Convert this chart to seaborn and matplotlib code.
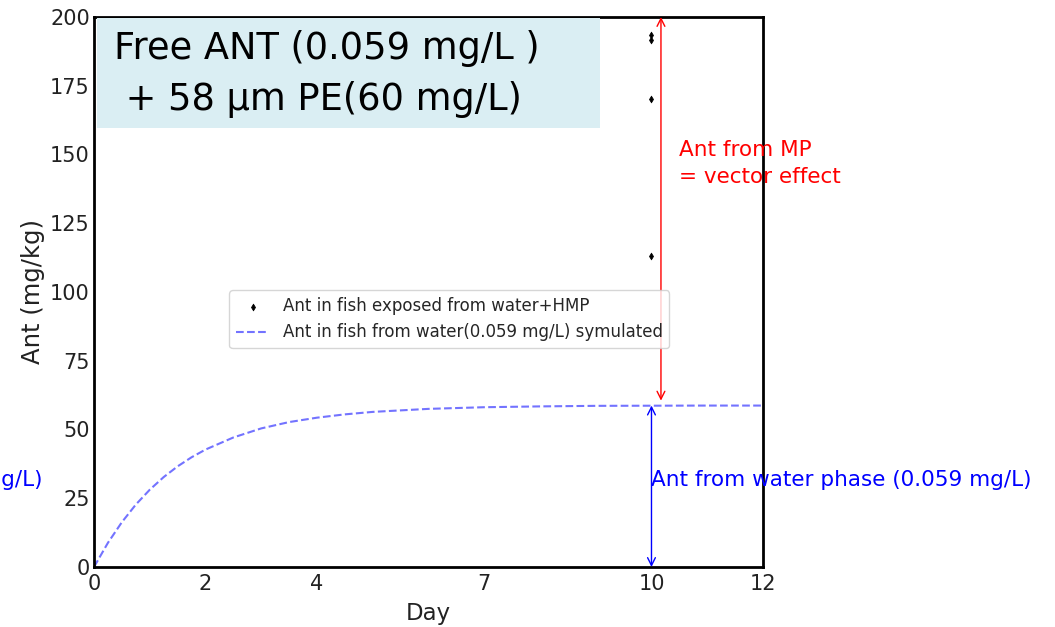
import matplotlib
matplotlib.use("Agg")
import matplotlib.pyplot as plt
from matplotlib.patches import Rectangle
import seaborn as sns
import pandas as pd

# Measured Ant concentration in fish after 10 days (water + HMP exposure)
obs_day = [10, 10, 10, 10]
obs_ant = [193.5, 191.5, 170.2, 113.2]

# Simulated uptake from water only (0.059 mg/L)
sim_day = [0, 0.25, 0.5, 0.75, 1, 1.25, 1.5, 1.75, 2, 2.5, 3, 3.5, 4, 4.5,
           5, 6, 7, 8, 9, 10, 11, 12]
sim_ant = [0, 8.8, 16.3, 22.7, 28.1, 32.7, 36.6, 39.9, 42.7, 47.1, 50.4, 52.7,
           54.3, 55.5, 56.4, 57.5, 58.1, 58.4, 58.6, 58.65, 58.7, 58.7]

x_ticks = [0, 2, 4, 7, 10, 12]
y_ticks = [0, 25, 50, 75, 100, 125, 150, 175, 200]

water_level = 58.7
mp_bottom = 60.5
mp_top = 200

sns.set_theme(style="white")
plt.rcParams["font.family"] = ["DejaVu Sans"]

fig = plt.figure(figsize=(10.55, 6.27), dpi=100)
ax = fig.add_axes([0.0891, 0.0957, 0.6341, 0.8772])

obs = pd.DataFrame({"day": obs_day, "ant": obs_ant})
sim = pd.DataFrame({"day": sim_day, "ant": sim_ant})

sns.lineplot(data=sim, x="day", y="ant", ax=ax, color="#7373ff",
             linestyle="--", linewidth=1.5,
             label="Ant in fish from water(0.059 mg/L) symulated")
sns.scatterplot(data=obs, x="day", y="ant", ax=ax, color="black",
                marker="d", s=12, edgecolor="black", linewidth=0.5,
                label="Ant in fish exposed from water+HMP", zorder=3)

ax.set_xlim(0, 12)
ax.set_ylim(0, 200)
ax.set_xticks(x_ticks)
ax.set_yticks(y_ticks)
ax.tick_params(direction="in", length=5, width=1.5, labelsize=15, pad=3,
               labelcolor="#222222")
ax.tick_params(axis="x", pad=5)
for s in ax.spines.values():
    s.set_color("black")
    s.set_linewidth(2)
ax.set_xlabel("Day", fontsize=16.5, color="#222222", labelpad=6)
ax.set_ylabel("Ant (mg/kg)", fontsize=17.5, color="#222222", labelpad=4)

handles, labels = ax.get_legend_handles_labels()
order = [1, 0]
ax.legend([handles[i] for i in order], [labels[i] for i in order],
          loc="upper left", bbox_to_anchor=(0.19, 0.518), fontsize=12,
          frameon=True, borderpad=0.4)

# Vector effect (red) and water-phase contribution (blue) arrows
ax.annotate("", xy=(10.17, mp_top), xytext=(10.17, mp_bottom),
            arrowprops=dict(arrowstyle="<->", color="red", lw=1.0,
                            mutation_scale=14, shrinkA=0, shrinkB=0),
            annotation_clip=False)
ax.annotate("", xy=(10.0, water_level), xytext=(10.0, 0),
            arrowprops=dict(arrowstyle="<->", color="blue", lw=1.0,
                            mutation_scale=14, shrinkA=0, shrinkB=0),
            annotation_clip=False)

ax.text(10.5, 146.8, "Ant from MP\n= vector effect", color="red",
        fontsize=15.5, va="center", ha="left", clip_on=False, linespacing=1.45)
ax.text(10.0, 31.5, "Ant from water phase (0.059 mg/L)", color="blue",
        fontsize=15.5, va="center", ha="left", clip_on=False)
fig.text(42 / 1055, 1 - 480 / 627, "Ant from water phase (0.059 mg/L)",
         color="blue", fontsize=15.5, va="center", ha="right")

# Condition box in the upper-left corner
fig.patches.append(Rectangle((97 / 1055, 1 - 128 / 627), 503 / 1055, 110 / 627,
                             transform=fig.transFigure, facecolor="#daeef3",
                             edgecolor="none", zorder=5))
fig.text(114 / 1055, 1 - 59 / 627, "Free ANT (0.059 mg/L )", fontsize=26.5,
         va="baseline", ha="left", zorder=6, color="black")
fig.text(114 / 1055, 1 - 110 / 627, " + 58 µm PE(60 mg/L)", fontsize=26.5,
         va="baseline", ha="left", zorder=6, color="black")

fig.savefig("out.png", dpi=100)
